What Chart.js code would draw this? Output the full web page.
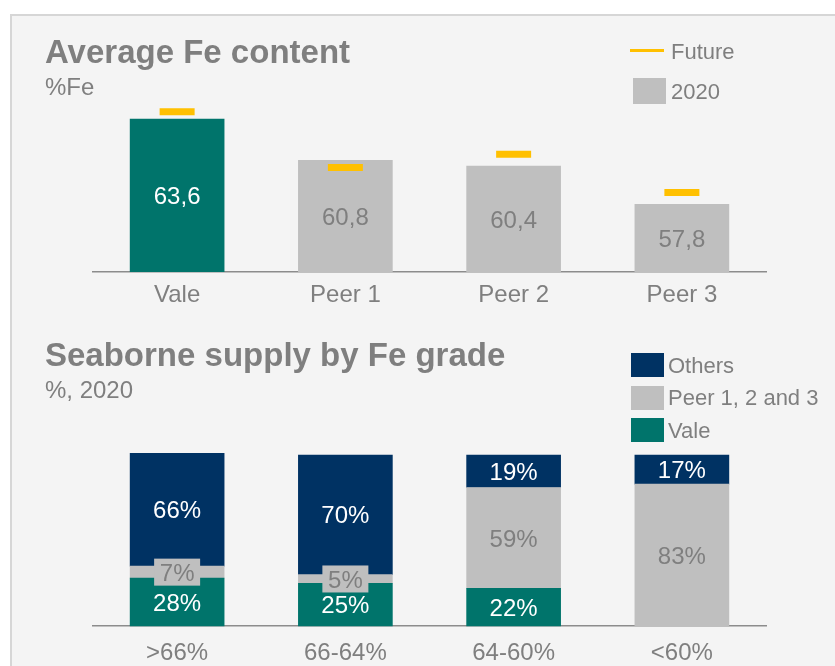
<!DOCTYPE html>
<html>
<head>
<meta charset="utf-8">
<script src="https://cdn.jsdelivr.net/npm/chart.js@4.4.1/dist/chart.umd.min.js"></script>
<style>
  body { margin: 0; background: #fff; width: 835px; height: 666px; overflow: hidden; position: relative;
         font-family: "Liberation Sans", Arial, sans-serif; color: #7f7f7f; }
  #painel { position: absolute; left: 10px; top: 14px; width: 840px; height: 660px; background: #f4f4f4;
            border-top: 2px solid #d6d6d6; border-left: 2px solid #d6d6d6; }
  canvas { position: absolute; left: 0; }
  .txt { position: absolute; white-space: nowrap; line-height: 1; }
  .titulo { font-size: 33px; font-weight: bold; }
  .sub { font-size: 24px; }
  .leg { font-size: 22px; }
  .caixa { position: absolute; width: 33px; height: 24px; }
</style>
</head>
<body>
<div id="painel"></div>

<canvas id="graficoTeor" width="835" height="330" style="top:0"></canvas>
<canvas id="graficoOferta" width="835" height="336" style="top:330px"></canvas>

<div class="txt titulo" style="left:45px; top:35px">Average Fe content</div>
<div class="txt sub" style="left:45px; top:75px">%Fe</div>
<div style="position:absolute; left:630px; top:49px; width:34px; height:3px; background:#ffc000"></div>
<div class="txt leg" style="left:671px; top:41px">Future</div>
<div class="caixa" style="left:633px; top:78px; height:26px; background:#bfbfbf"></div>
<div class="txt leg" style="left:671px; top:81px">2020</div>

<div class="txt titulo" style="left:45px; top:338px">Seaborne supply by Fe grade</div>
<div class="txt sub" style="left:45px; top:378px">%, 2020</div>
<div class="caixa" style="left:631px; top:353px; background:#003263"></div>
<div class="txt leg" style="left:668px; top:355px">Others</div>
<div class="caixa" style="left:631px; top:386px; background:#bfbfbf"></div>
<div class="txt leg" style="left:668px; top:387px">Peer 1, 2 and 3</div>
<div class="caixa" style="left:631px; top:418px; background:#00746b"></div>
<div class="txt leg" style="left:668px; top:420px">Vale</div>

<script>
const empresas = ["Vale", "Peer 1", "Peer 2", "Peer 3"];
const teor2020 = [63.6, 60.8, 60.4, 57.8];
const teorFuturo = [64.1, 60.3, 61.2, 58.6];

const faixas = [">66%", "66-64%", "64-60%", "<60%"];
const ofertaVale = [28, 25, 22, 0];
const ofertaPeers = [7, 5, 59, 83];
const ofertaOutros = [66, 70, 19, 17];

const VERDE = "#00746b";
const AZUL = "#003263";
const CINZA = "#bfbfbf";
const AMARELO = "#ffc000";
const TEXTO = "#7f7f7f";
const FONTE = "'Liberation Sans', Arial, sans-serif";

// rotulos centralizados dentro de cada barra
function criarPluginRotulos(formato, caixaPequena) {
  return {
    id: "rotulos",
    afterDatasetsDraw(chart) {
      const ctx = chart.ctx;
      const fundo = chart.chartArea.bottom;
      chart.getSortedVisibleDatasetMetas().forEach(meta => {
        if (meta.type !== "bar") return;
        const ds = chart.data.datasets[meta.index];
        meta.data.forEach((barra, j) => {
          const valor = ds.data[j];
          if (!valor) return;
          const x = barra.x;
          const y = (barra.y + Math.min(barra.base, fundo)) / 2;
          ctx.save();
          if (caixaPequena && valor < 10) {
            ctx.fillStyle = CINZA;
            ctx.fillRect(x - 23, y - 13.5, 46, 27);
          }
          ctx.font = "24px " + FONTE;
          ctx.fillStyle = Array.isArray(ds.corRotulo) ? ds.corRotulo[j] : ds.corRotulo;
          ctx.textAlign = "center";
          ctx.textBaseline = "alphabetic";
          ctx.fillText(formato(valor), x, y + 8.6);
          ctx.restore();
        });
      });
    }
  };
}

function eixoX(altura, espaco) {
  return {
    grid: { display: false, drawTicks: false },
    border: { display: true, color: "#8c8c8c", width: 1.5 },
    ticks: { color: TEXTO, font: { size: 24, family: FONTE }, padding: espaco },
    afterFit: (scale) => { scale.height = altura; }
  };
}

function corSeHouver(cor) {
  return (ctx) => (ctx.raw ? cor : "rgba(0,0,0,0)");
}

new Chart(document.getElementById("graficoTeor").getContext("2d"), {
  type: "bar",
  data: {
    labels: empresas,
    datasets: [
      {
        type: "line",
        label: "Future",
        data: teorFuturo,
        showLine: false,
        pointStyle: "line",
        pointRadius: 17.5,
        pointHoverRadius: 17.5,
        borderColor: AMARELO,
        pointBorderWidth: 7,
        borderWidth: 7,
        order: 0
      },
      {
        type: "bar",
        label: "2020",
        data: teor2020,
        backgroundColor: [VERDE, CINZA, CINZA, CINZA],
        corRotulo: ["#ffffff", TEXTO, TEXTO, TEXTO],
        barThickness: 94,
        order: 1
      }
    ]
  },
  options: {
    responsive: false,
    animation: false,
    events: [],
    layout: { padding: { left: 93, right: 69, top: 98.5, bottom: 20 } },
    plugins: { legend: { display: false }, tooltip: { enabled: false } },
    scales: {
      x: eixoX(38, 9),
      y: { display: false, min: 53.2, max: 65 }
    }
  },
  plugins: [criarPluginRotulos(v => v.toFixed(1).replace(".", ","), false)]
});

new Chart(document.getElementById("graficoOferta").getContext("2d"), {
  type: "bar",
  data: {
    labels: faixas,
    datasets: [
      { label: "Vale", data: ofertaVale, backgroundColor: corSeHouver(VERDE), corRotulo: "#ffffff", barThickness: 94, clip: false },
      { label: "Peer 1, 2 and 3", data: ofertaPeers, backgroundColor: corSeHouver(CINZA), corRotulo: TEXTO, barThickness: 94, clip: false },
      { label: "Others", data: ofertaOutros, backgroundColor: corSeHouver(AZUL), corRotulo: "#ffffff", barThickness: 94, clip: false }
    ]
  },
  options: {
    responsive: false,
    animation: false,
    events: [],
    layout: { padding: { left: 93, right: 69, top: 125, bottom: 0 } },
    plugins: { legend: { display: false }, tooltip: { enabled: false } },
    scales: {
      x: Object.assign(eixoX(40, 13), { stacked: true }),
      y: { display: false, stacked: true, min: 0, max: 100 }
    }
  },
  plugins: [criarPluginRotulos(v => v + "%", true)]
});
</script>
</body>
</html>
